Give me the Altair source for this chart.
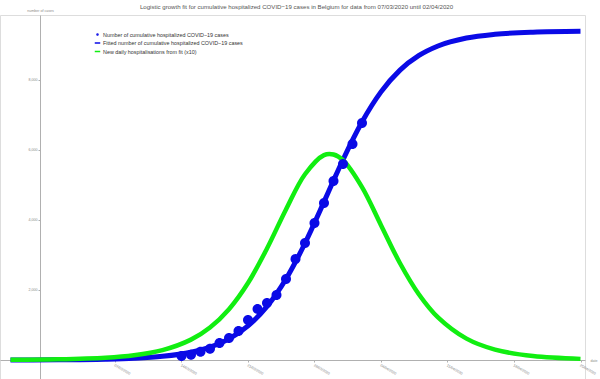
import altair as alt
import pandas as pd

TITLE = "Logistic growth fit for cumulative hospitalized COVID\u221219 cases in Belgium for data from 07/03/2020 until 02/04/2020"
series_names = [
    "Number of cumulative hospitalized COVID\u221219 cases",
    "Fitted number of cumulative hospitalized COVID\u221219 cases",
    "New daily hospitalisations from fit (x10)",
]
series_colors = ["#0a0ae6", "#0a0ae6", "#11ee11"]
DOT = "M-0.18,0A0.18,0.18,0,1,0,0.18,0A0.18,0.18,0,1,0,-0.18,0Z"
series_shapes = [DOT, "stroke", "stroke"]

obs_dates = ["2020-03-14", "2020-03-15", "2020-03-16", "2020-03-17", "2020-03-18",
             "2020-03-19", "2020-03-20", "2020-03-21", "2020-03-22", "2020-03-23",
             "2020-03-24", "2020-03-25", "2020-03-26", "2020-03-27", "2020-03-28",
             "2020-03-29", "2020-03-30", "2020-03-31", "2020-04-01", "2020-04-02"]
obs_values = [114, 151, 237, 323, 486, 629, 829, 1143, 1457, 1629,
              1857, 2314, 2886, 3343, 3914, 4486, 5114, 5600, 6171, 6771]

curve_dates = ["2020-02-25", "2020-03-01", "2020-03-06", "2020-03-09", "2020-03-12",
               "2020-03-15", "2020-03-17", "2020-03-19", "2020-03-21", "2020-03-23",
               "2020-03-25", "2020-03-27", "2020-03-29", "2020-03-30", "2020-03-31",
               "2020-04-02", "2020-04-04", "2020-04-06", "2020-04-08", "2020-04-10",
               "2020-04-13", "2020-04-16", "2020-04-20", "2020-04-25"]
fit_values = [2, 6, 22, 48, 104, 223, 369, 604, 974, 1530, 2316, 3336, 4517, 5126,
              5722, 6802, 7661, 8282, 8701, 8972, 9199, 9307, 9367, 9391]
daily_x10_values = [5, 19, 64, 135, 282, 582, 928, 1452, 2200, 3186, 4301, 5307, 5853,
                    5871, 5709, 4938, 3853, 2765, 1872, 1217, 610, 297, 111, 32]

x_tick_dates = ["2020-03-07", "2020-03-14", "2020-03-21", "2020-03-28",
                "2020-04-04", "2020-04-11", "2020-04-18", "2020-04-25"]
y_ticks = [2000, 4000, 6000, 8000]

obs_df = pd.DataFrame({"date": obs_dates, "value": obs_values, "series": series_names[0]})
fit_df = pd.DataFrame({"date": curve_dates, "value": fit_values, "series": series_names[1]})
daily_df = pd.DataFrame({"date": curve_dates, "value": daily_x10_values, "series": series_names[2]})

FONT = "Liberation Sans"
AX_COL = "#b0b0b0"
LAB_COL = "#8a8a8a"

x_tick_vals = [alt.DateTime(year=int(d[:4]), month=int(d[5:7]), date=int(d[8:]), utc=True)
               for d in x_tick_dates]

x_enc = alt.X(
    "date:T",
    scale=alt.Scale(type="utc",
                    domain=[alt.DateTime(year=2020, month=2, date=23, hours=21, minutes=29, utc=True),
                            alt.DateTime(year=2020, month=4, date=25, hours=11, minutes=22, utc=True)]),
    axis=alt.Axis(values=x_tick_vals, format="%d/%m/%Y", labelAngle=30, labelAlign="left",
                  labelBaseline="top", labelFontSize=3.6, labelColor=LAB_COL, labelFont=FONT,
                  labelPadding=1, tickSize=2, tickColor=AX_COL, domainColor=AX_COL, grid=False,
                  offset=-19, labelOverlap=False, labelFlush=False,
                  title="date", titleFontSize=3.6, titleColor=LAB_COL, titleFont=FONT,
                  titleFontWeight="normal", titleX=590, titleY=0, titleAlign="left",
                  titleBaseline="middle", titleAngle=0),
)
y_enc = alt.Y(
    "value:Q",
    scale=alt.Scale(domain=[-543, 9857], nice=False, zero=False),
    axis=alt.Axis(values=y_ticks, labelFontSize=3.6, labelColor=LAB_COL, labelFont=FONT,
                  labelPadding=1, tickSize=2, tickColor=AX_COL, domainColor=AX_COL, grid=False,
                  offset=-40, title="number of cases", titleFontSize=3.6, titleColor=LAB_COL,
                  titleFont=FONT, titleFontWeight="normal", titleAngle=0, titleX=0, titleY=-5,
                  titleAlign="center", titleBaseline="middle"),
)

legend = alt.Legend(title=None, orient="none", legendX=94, legendY=16, labelFontSize=5.4,
                    labelColor="#333333", labelFont=FONT, symbolSize=30, symbolStrokeWidth=1.5,
                    rowPadding=1.5, labelOffset=2, padding=0)
color_enc = alt.Color("series:N", scale=alt.Scale(domain=series_names, range=series_colors),
                      legend=legend)
shape_enc = alt.Shape("series:N", scale=alt.Scale(domain=series_names, range=series_shapes),
                      legend=legend)

fit_line = alt.Chart(fit_df).mark_line(strokeWidth=5, interpolate="monotone").encode(
    x=x_enc, y=y_enc, color=color_enc)
daily_line = alt.Chart(daily_df).mark_line(strokeWidth=4.5, interpolate="catmull-rom").encode(
    x=x_enc, y=y_enc, color=color_enc)
points = alt.Chart(obs_df).mark_point(filled=True, opacity=1).encode(
    x=x_enc, y=y_enc, color=color_enc, shape=shape_enc, size=alt.value(3086))

chart = alt.layer(fit_line, daily_line, points).properties(
    width=585, height=364,
    title=alt.TitleParams(TITLE, fontSize=6.1, color="#555555", font=FONT, fontWeight="normal",
                          anchor="middle", frame="group", dx=4, dy=2, offset=0),
    padding={"left": 0, "top": 15, "right": 15, "bottom": 0},
    autosize=alt.AutoSizeParams(type="none"),
).configure_view(stroke=None).configure(background="white")

chart.save("out.html", embed_options={"renderer": "svg", "actions": False})
